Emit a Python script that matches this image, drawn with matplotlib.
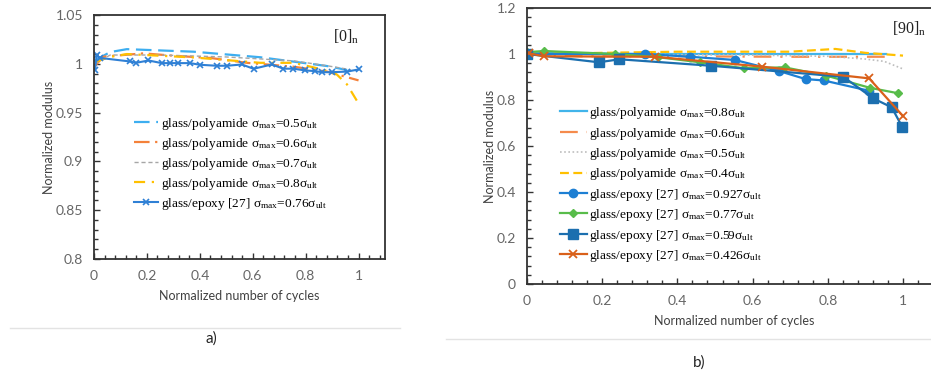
import matplotlib
matplotlib.use("Agg")
import matplotlib.pyplot as plt
from matplotlib.ticker import MultipleLocator
from matplotlib.lines import Line2D

plt.rcParams['font.family'] = ['Lato', 'DejaVu Sans']
plt.rcParams['mathtext.fontset'] = 'custom'
plt.rcParams['mathtext.rm'] = 'Liberation Serif'
plt.rcParams['mathtext.it'] = 'Liberation Serif:italic'

# ---------------- Panel a) [0]n ----------------
a_pa05_x = [0.0, 0.061, 0.124, 0.376, 0.629, 0.881, 0.957]
a_pa05_y = [1.003, 1.012, 1.015, 1.0124, 1.0067, 0.9977, 0.9936]
a_pa06_x = [0.004, 0.035, 0.187, 0.313, 0.44, 0.578, 0.755, 0.881, 1.0]
a_pa06_y = [0.998, 1.0073, 1.0107, 1.008, 1.006, 1.001, 0.997, 0.992, 0.983]
a_pa07_x = [0.004, 0.061, 0.25, 0.5, 0.755, 0.881, 0.97]
a_pa07_y = [1.0, 1.009, 1.009, 1.007, 1.003, 0.998, 0.994]
a_pa08_x = [0.004, 0.061, 0.124, 0.376, 0.629, 0.755, 0.867, 0.918, 0.956, 0.994]
a_pa08_y = [1.002, 1.007, 1.010, 1.0065, 1.001, 1.001, 0.994, 0.989, 0.979, 0.962]
a_ep_x = [0.004, 0.01, 0.023, 0.136, 0.159, 0.206, 0.256, 0.288, 0.319, 0.363, 0.401,
          0.464, 0.502, 0.559, 0.603, 0.672, 0.716, 0.754, 0.798, 0.836, 0.861, 0.899,
          0.956, 1.0]
a_ep_y = [0.9938, 1.0086, 1.006, 1.0024, 1.001, 1.0034, 1.0007, 1.0007, 1.0007, 1.0007,
          0.999, 0.998, 0.998, 0.9993, 0.9949, 0.9993, 0.995, 0.995, 0.9932, 0.9925,
          0.9914, 0.9914, 0.992, 0.9942]

a_labels = [r"glass/polyamide σ$_{\rm max}$=0.5σ$_{\rm ult}$",
            r"glass/polyamide σ$_{\rm max}$=0.6σ$_{\rm ult}$",
            r"glass/polyamide σ$_{\rm max}$=0.7σ$_{\rm ult}$",
            r"glass/polyamide σ$_{\rm max}$=0.8σ$_{\rm ult}$",
            r"glass/epoxy [27] σ$_{\rm max}$=0.76σ$_{\rm ult}$"]

# ---------------- Panel b) [90]n ----------------
b_pa08_x = [0.0, 0.3, 0.6, 0.8, 0.955]
b_pa08_y = [1.005, 1.0, 1.0, 1.0, 1.0]
b_pa06_x = [0.0, 0.15, 0.4, 0.7, 0.955]
b_pa06_y = [1.0, 0.99, 0.99, 0.988, 0.988]
b_pa05_x = [0.0, 0.3, 0.6, 0.8, 0.9, 0.95, 1.0]
b_pa05_y = [1.0, 0.998, 0.995, 0.99, 0.978, 0.968, 0.935]
b_pa04_x = [0.0, 0.2, 0.4, 0.7, 0.82, 0.9, 1.0]
b_pa04_y = [1.0, 1.005, 1.01, 1.01, 1.022, 1.005, 0.993]
b_ep927_x = [0.0, 0.314, 0.434, 0.553, 0.670, 0.741, 0.789, 0.91]
b_ep927_y = [1.0, 1.0, 0.988, 0.974, 0.926, 0.891, 0.885, 0.84]
b_ep77_x = [0.0, 0.045, 0.234, 0.349, 0.46, 0.577, 0.685, 0.796, 0.912, 0.988]
b_ep77_y = [1.008, 1.013, 1.0, 0.986, 0.964, 0.938, 0.942, 0.906, 0.853, 0.829]
b_ep59_x = [0.0, 0.191, 0.246, 0.489, 0.841, 0.921, 0.970, 0.998]
b_ep59_y = [1.0, 0.964, 0.977, 0.949, 0.901, 0.807, 0.768, 0.683]
b_ep426_x = [0.005, 0.045, 0.34, 0.625, 0.91, 1.0]
b_ep426_y = [1.003, 0.99, 0.988, 0.945, 0.894, 0.73]

b_labels = [r"glass/polyamide σ$_{\rm max}$=0.8σ$_{\rm ult}$",
            r"glass/polyamide σ$_{\rm max}$=0.6σ$_{\rm ult}$",
            r"glass/polyamide σ$_{\rm max}$=0.5σ$_{\rm ult}$",
            r"glass/polyamide σ$_{\rm max}$=0.4σ$_{\rm ult}$",
            r"glass/epoxy [27] σ$_{\rm max}$=0.927σ$_{\rm ult}$",
            r"glass/epoxy [27] σ$_{\rm max}$=0.77σ$_{\rm ult}$",
            r"glass/epoxy [27] σ$_{\rm max}$=0.59σ$_{\rm ult}$",
            r"glass/epoxy [27] σ$_{\rm max}$=0.426σ$_{\rm ult}$"]

W, H = 931, 374
fig = plt.figure(figsize=(W / 100, H / 100), dpi=100)

def px_axes(l, t, r, b):
    return fig.add_axes([l / W, 1 - b / H, (r - l) / W, (b - t) / H])

tick_col = '#666666'

def style(ax):
    ax.tick_params(which='both', direction='in', colors='#333333', labelcolor=tick_col,
                   labelsize=10)
    ax.tick_params(which='major', length=4, width=1.0, pad=8)
    ax.tick_params(which='minor', length=3, width=1.0)
    for s in ax.spines.values():
        s.set_color('#333333')
        s.set_linewidth(1.3)

# Panel a
axa = px_axes(94, 15, 385, 259)
c_lb = '#3DAEF0'
c_or = '#F4813A'
c_gr = '#A6A6A6'
c_ye = '#FFC000'
c_bl = '#2F80D5'
axa.plot(a_pa05_x, a_pa05_y, color=c_lb, lw=1.6, dashes=(7, 3), label=a_labels[0])
axa.plot(a_pa06_x, a_pa06_y, color=c_or, lw=1.6, dashes=(7, 2.5, 1, 2.5), label=a_labels[1])
axa.plot(a_pa07_x, a_pa07_y, color=c_gr, lw=1.0, dashes=(3, 2), label=a_labels[2])
axa.plot(a_pa08_x, a_pa08_y, color=c_ye, lw=1.6, dashes=(5, 3, 1, 3), label=a_labels[3])
axa.plot(a_ep_x, a_ep_y, color=c_bl, lw=1.5, marker='x', ms=5, mew=1.2, label=a_labels[4])
axa.set_xlim(0, 1.1)
axa.set_ylim(0.8, 1.05)
axa.set_xticks([0, 0.2, 0.4, 0.6, 0.8, 1.0])
axa.set_xticklabels(['0', '0.2', '0.4', '0.6', '0.8', '1'])
axa.set_yticks([0.8, 0.85, 0.9, 0.95, 1.0, 1.05])
axa.set_yticklabels(['0.8', '0.85', '0.9', '0.95', '1', '1.05'])
axa.xaxis.set_minor_locator(MultipleLocator(0.04))
axa.yaxis.set_minor_locator(MultipleLocator(0.01))
style(axa)
axa.set_xlabel('Normalized number of cycles', fontsize=9, color='#404040', labelpad=6)
axa.set_ylabel('Normalized modulus', fontsize=9, color='#404040', labelpad=0)
axa.text(0.82, 0.889, r'[0]$_{\rm n}$', transform=axa.transAxes, fontsize=11.5,
         family='Liberation Serif', color='#222222')
axa.legend(loc='upper left', bbox_to_anchor=(0.137, 0.588), frameon=False,
           prop={'family': 'Liberation Serif', 'size': 9.6}, handlelength=1.8,
           handletextpad=0.2, labelspacing=0.3, borderaxespad=0, borderpad=0)

# Panel b
axb = px_axes(527, 8, 940.6, 284)
c2_lb = '#41B4EA'
c2_or = '#F58B4C'
c2_gr = '#BDBDBD'
c2_ye = '#FFC000'
c2_ci = '#1D7FD3'
c2_gn = '#58BC4A'
c2_sq = '#1C6FAF'
c2_x = '#D9601A'
axb.plot(b_pa08_x, b_pa08_y, color=c2_lb, lw=1.6, label=b_labels[0])
axb.plot(b_pa06_x, b_pa06_y, color=c2_or, lw=1.6, dashes=(8, 4, 1, 4), label=b_labels[1])
axb.plot(b_pa05_x, b_pa05_y, color=c2_gr, lw=1.2, dashes=(1, 1.5), label=b_labels[2])
axb.plot(b_pa04_x, b_pa04_y, color=c2_ye, lw=1.6, dashes=(4, 2), label=b_labels[3])
axb.plot(b_ep927_x, b_ep927_y, color=c2_ci, lw=1.6, marker='o', ms=6, label=b_labels[4])
axb.plot(b_ep77_x, b_ep77_y, color=c2_gn, lw=1.6, marker='D', ms=4.5, label=b_labels[5])
axb.plot(b_ep59_x, b_ep59_y, color=c2_sq, lw=1.6, marker='s', ms=6.5, label=b_labels[6])
axb.plot(b_ep426_x, b_ep426_y, color=c2_x, lw=1.6, marker='x', ms=6, mew=1.3, label=b_labels[7])
axb.set_xlim(0, 1.1)
axb.set_ylim(0, 1.2)
axb.set_xticks([0, 0.2, 0.4, 0.6, 0.8, 1.0])
axb.set_xticklabels(['0', '0.2', '0.4', '0.6', '0.8', '1'])
axb.set_yticks([0, 0.2, 0.4, 0.6, 0.8, 1.0, 1.2])
axb.set_yticklabels(['0', '0.2', '0.4', '0.6', '0.8', '1', '1.2'])
axb.xaxis.set_minor_locator(MultipleLocator(0.04))
axb.yaxis.set_minor_locator(MultipleLocator(0.04))
style(axb)
axb.set_xlabel('Normalized number of cycles', fontsize=9, color='#404040', labelpad=6)
axb.set_ylabel('Normalized modulus', fontsize=9, color='#404040', labelpad=0)
axb.text(0.882, 0.909, r'[90]$_{\rm n}$', transform=axb.transAxes, fontsize=11.5,
         family='Liberation Serif', color='#222222')
axb.legend(loc='upper left', bbox_to_anchor=(0.08, 0.648), frameon=False,
           prop={'family': 'Liberation Serif', 'size': 9.6}, handlelength=2.0,
           handletextpad=0.2, labelspacing=0.33, borderaxespad=0, borderpad=0)

# captions and separators
fig.add_artist(Line2D([10 / W, 400 / W], [1 - 328 / H, 1 - 328 / H], color='#E3E3E3', lw=1))
fig.add_artist(Line2D([446 / W, 1.0], [1 - 339 / H, 1 - 339 / H], color='#E3E3E3', lw=1))
fig.text(211 / W, 1 - 339 / H, 'a)', ha='center', va='center', fontsize=11, color='#222222')
fig.text(699 / W, 1 - 363 / H, 'b)', ha='center', va='center', fontsize=11, color='#222222')

fig.savefig('out.png', dpi=100)
